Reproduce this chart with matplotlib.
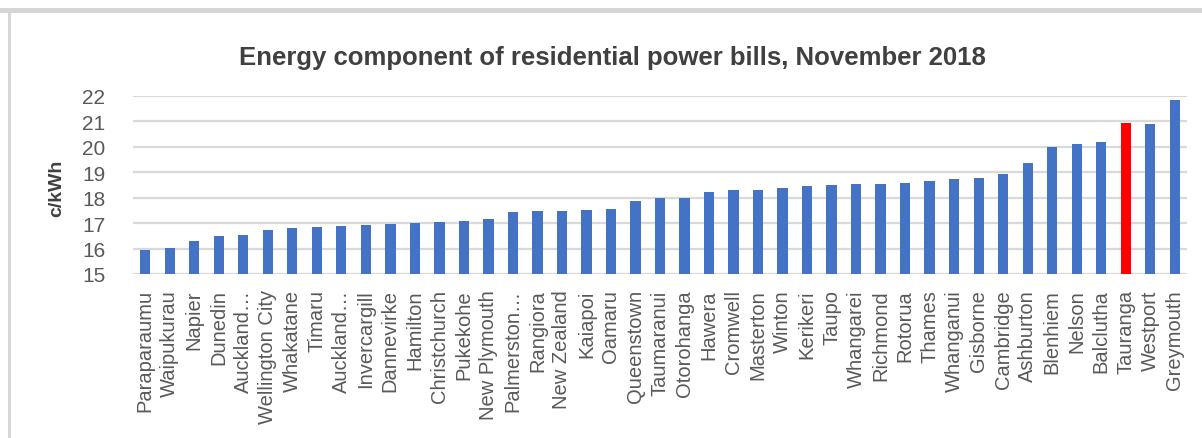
import matplotlib
matplotlib.use("Agg")
import matplotlib.pyplot as plt
from matplotlib.patches import Rectangle
import numpy as np

# Energy component (c/kWh) by town, sorted ascending
towns = ["Paraparaumu", "Waipukurau", "Napier", "Dunedin", "Auckland\u2026",
         "Wellington City", "Whakatane", "Timaru", "Auckland\u2026", "Invercargill",
         "Dannevirke", "Hamilton", "Christchurch", "Pukekohe", "New Plymouth",
         "Palmerston\u2026", "Rangiora", "New Zealand", "Kaiapoi", "Oamaru",
         "Queenstown", "Taumaranui", "Otorohanga", "Hawera", "Cromwell",
         "Masterton", "Winton", "Kerikeri", "Taupo", "Whangarei",
         "Richmond", "Rotorua", "Thames", "Whanganui", "Gisborne",
         "Cambridge", "Ashburton", "Blenhiem", "Nelson", "Balclutha",
         "Tauranga", "Westport", "Greymouth"]
cents = [15.96, 16.02, 16.28, 16.49, 16.54,
         16.75, 16.81, 16.86, 16.88, 16.92,
         16.98, 17.02, 17.03, 17.07, 17.17,
         17.42, 17.46, 17.49, 17.51, 17.54,
         17.88, 18.00, 18.00, 18.21, 18.29,
         18.30, 18.38, 18.48, 18.51, 18.52,
         18.53, 18.57, 18.64, 18.72, 18.77,
         18.95, 19.38, 20.00, 20.13, 20.21,
         20.94, 20.90, 21.85]
highlight = "Tauranga"

W, H = 1202, 439
plt.rcParams["font.family"] = ["Liberation Sans", "DejaVu Sans"]

fig = plt.figure(figsize=(W / 100, H / 100), dpi=100)
fig.patch.set_facecolor("white")

# chart border (top band and left edge)
fig.add_artist(Rectangle((0, 1 - 14 / H), 1, 5 / H, transform=fig.transFigure,
                         facecolor="#d6d6d6", edgecolor="none"))
fig.add_artist(Rectangle((8 / W, 0), 3 / W, 1 - 14 / H, transform=fig.transFigure,
                         facecolor="#d6d6d6", edgecolor="none"))

ax = fig.add_axes([133 / W, (H - 275) / H, (1187 - 133) / W, (275 - 97) / H])

x = np.arange(len(towns))
colors = ["#ff0000" if t == highlight else "#4472c4" for t in towns]
ax.bar(x, np.array(cents) - 15, bottom=15, width=0.42, color=colors, zorder=3)

ax.set_xlim(-0.5, len(towns) - 0.5)
ax.set_ylim(15, 22)
ax.set_yticks(range(15, 23))
ax.yaxis.grid(True, color="#d9d9d9", linewidth=1.6, zorder=0)
ax.set_axisbelow(True)
for s in ax.spines.values():
    s.set_visible(False)

ax.set_xticks(x)
ax.set_xticklabels(towns, rotation=90, fontsize=14.5, color="#595959")
ax.tick_params(axis="x", length=0, pad=11)
ax.tick_params(axis="y", length=0, pad=20, labelsize=15, labelcolor="#595959")

fig.text(57 / W, 1 - 188 / H, "c/kWh", rotation=90, ha="center", va="center",
         fontsize=14, fontweight="bold", color="#404040")
fig.text(612 / W, 1 - 58 / H, "Energy component of residential power bills, November 2018",
         ha="center", va="center", fontsize=18.5, fontweight="bold", color="#404040")

fig.savefig("out.png", dpi=100)
